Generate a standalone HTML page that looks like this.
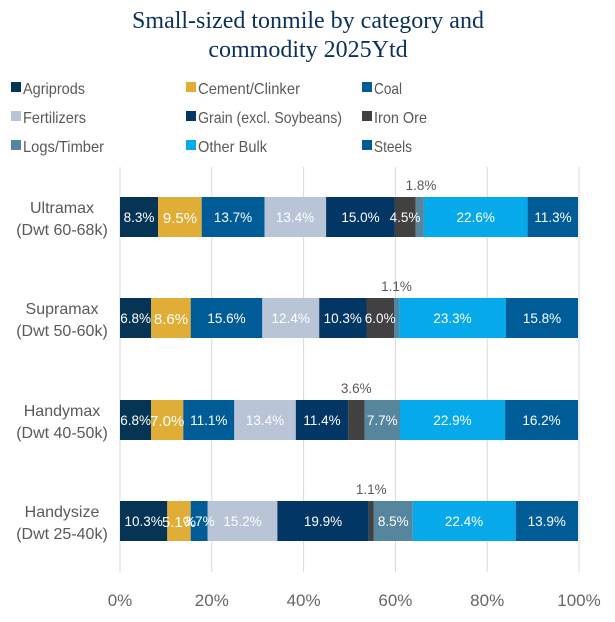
<!DOCTYPE html>
<html><head><meta charset="utf-8"><style>
body{margin:0;background:#fff}
svg text{font-family:"Liberation Sans",sans-serif}
</style></head><body>
<svg width="615" height="617" xmlns="http://www.w3.org/2000/svg">
<g font-size="24" fill="#0b3157" text-anchor="middle">
<text x="308" y="28" style="font-family:'Liberation Serif',serif">Small-sized tonmile by category and</text>
<text x="308" y="57" style="font-family:'Liberation Serif',serif">commodity 2025Ytd</text>
</g>
<g font-size="16" fill="#595959">
<rect x="11" y="82" width="10" height="10" fill="#063455"/><text x="23" y="94" textLength="62" lengthAdjust="spacingAndGlyphs">Agriprods</text>
<rect x="186" y="82" width="10" height="10" fill="#e0ae36"/><text x="198" y="94" textLength="102" lengthAdjust="spacingAndGlyphs">Cement/Clinker</text>
<rect x="362" y="82" width="10" height="10" fill="#005c96"/><text x="374" y="94" textLength="28" lengthAdjust="spacingAndGlyphs">Coal</text>
<rect x="11" y="111" width="10" height="10" fill="#b9c5d6"/><text x="23" y="123" textLength="63" lengthAdjust="spacingAndGlyphs">Fertilizers</text>
<rect x="186" y="111" width="10" height="10" fill="#013665"/><text x="198" y="123" textLength="144" lengthAdjust="spacingAndGlyphs">Grain (excl. Soybeans)</text>
<rect x="362" y="111" width="10" height="10" fill="#414141"/><text x="374" y="123" textLength="53" lengthAdjust="spacingAndGlyphs">Iron Ore</text>
<rect x="11" y="140" width="10" height="10" fill="#55869d"/><text x="23" y="152" textLength="81" lengthAdjust="spacingAndGlyphs">Logs/Timber</text>
<rect x="186" y="140" width="10" height="10" fill="#06a9ea"/><text x="198" y="152" textLength="69" lengthAdjust="spacingAndGlyphs">Other Bulk</text>
<rect x="362" y="140" width="10" height="10" fill="#005c96"/><text x="374" y="152" textLength="38" lengthAdjust="spacingAndGlyphs">Steels</text>
</g>
<g stroke="#d9d9d9" stroke-width="1">
<line x1="120" y1="167" x2="120" y2="572"/><line x1="211.8" y1="167" x2="211.8" y2="572"/>
<line x1="303.6" y1="167" x2="303.6" y2="572"/><line x1="395.4" y1="167" x2="395.4" y2="572"/>
<line x1="487.2" y1="167" x2="487.2" y2="572"/><line x1="579" y1="167" x2="579" y2="572"/>
</g>
<g font-size="17" fill="#666" text-anchor="middle">
<text x="120" y="606">0%</text><text x="211.8" y="606">20%</text><text x="303.6" y="606">40%</text>
<text x="395.4" y="606">60%</text><text x="487.2" y="606">80%</text><text x="579" y="606">100%</text>
</g>
<g font-size="16" fill="#595959" text-anchor="middle">
<text x="62" y="213">Ultramax</text><text x="62" y="235">(Dwt 60-68k)</text>
<text x="62" y="314">Supramax</text><text x="62" y="336">(Dwt 50-60k)</text>
<text x="62" y="416">Handymax</text><text x="62" y="438">(Dwt 40-50k)</text>
<text x="62" y="517">Handysize</text><text x="62" y="539">(Dwt 25-40k)</text>
</g>
<g>
<rect x="120" y="197" width="38.1" height="40" fill="#063455"/>
<rect x="158.1" y="197" width="43.6" height="40" fill="#e0ae36"/>
<rect x="201.7" y="197" width="62.9" height="40" fill="#005c96"/>
<rect x="264.6" y="197" width="61.5" height="40" fill="#b9c5d6"/>
<rect x="326.1" y="197" width="68.8" height="40" fill="#013665"/>
<rect x="394.9" y="197" width="20.7" height="40" fill="#414141"/>
<rect x="415.6" y="197" width="8.3" height="40" fill="#55869d"/>
<rect x="423.9" y="197" width="103.7" height="40" fill="#06a9ea"/>
<rect x="527.6" y="197" width="50.4" height="40" fill="#005c96"/>
</g>
<g>
<rect x="120" y="298" width="31.2" height="40" fill="#063455"/>
<rect x="151.2" y="298" width="39.5" height="40" fill="#e0ae36"/>
<rect x="190.7" y="298" width="71.6" height="40" fill="#005c96"/>
<rect x="262.3" y="298" width="56.9" height="40" fill="#b9c5d6"/>
<rect x="319.2" y="298" width="47.3" height="40" fill="#013665"/>
<rect x="366.5" y="298" width="27.5" height="40" fill="#414141"/>
<rect x="394" y="298" width="5.1" height="40" fill="#55869d"/>
<rect x="399.1" y="298" width="106.9" height="40" fill="#06a9ea"/>
<rect x="506" y="298" width="72" height="40" fill="#005c96"/>
</g>
<g>
<rect x="120" y="400" width="31.2" height="40" fill="#063455"/>
<rect x="151.2" y="400" width="32.1" height="40" fill="#e0ae36"/>
<rect x="183.3" y="400" width="51" height="40" fill="#005c96"/>
<rect x="234.3" y="400" width="61.5" height="40" fill="#b9c5d6"/>
<rect x="295.8" y="400" width="52.3" height="40" fill="#013665"/>
<rect x="348.1" y="400" width="16.5" height="40" fill="#414141"/>
<rect x="364.6" y="400" width="35.4" height="40" fill="#55869d"/>
<rect x="400" y="400" width="105.1" height="40" fill="#06a9ea"/>
<rect x="505.1" y="400" width="72.9" height="40" fill="#005c96"/>
</g>
<g>
<rect x="120" y="501" width="47.3" height="40" fill="#063455"/>
<rect x="167.3" y="501" width="23.4" height="40" fill="#e0ae36"/>
<rect x="190.7" y="501" width="17" height="40" fill="#005c96"/>
<rect x="207.7" y="501" width="69.7" height="40" fill="#b9c5d6"/>
<rect x="277.4" y="501" width="91.4" height="40" fill="#013665"/>
<rect x="368.8" y="501" width="5" height="40" fill="#414141"/>
<rect x="373.8" y="501" width="39" height="40" fill="#55869d"/>
<rect x="412.8" y="501" width="102.9" height="40" fill="#06a9ea"/>
<rect x="515.7" y="501" width="62.3" height="40" fill="#005c96"/>
</g>
<g font-size="13.5" fill="#fff" text-anchor="middle">
<text x="139" y="222">8.3%</text><text x="180" y="223" font-size="15">9.5%</text><text x="233" y="222">13.7%</text>
<text x="295" y="222">13.4%</text><text x="360.5" y="222">15.0%</text><text x="405" y="222">4.5%</text>
<text x="475.7" y="222">22.6%</text><text x="553" y="222">11.3%</text>
<text x="135.6" y="323">6.8%</text><text x="171" y="324" font-size="15">8.6%</text><text x="226.5" y="323">15.6%</text>
<text x="290.7" y="323">12.4%</text><text x="342.8" y="323">10.3%</text><text x="380.2" y="323">6.0%</text>
<text x="452.5" y="323">23.3%</text><text x="542" y="323">15.8%</text>
<text x="135.6" y="425">6.8%</text><text x="167.2" y="426" font-size="15">7.0%</text><text x="208.8" y="425">11.1%</text>
<text x="265" y="425">13.4%</text><text x="322" y="425">11.4%</text><text x="382.3" y="425">7.7%</text>
<text x="452.5" y="425">22.9%</text><text x="541.5" y="425">16.2%</text>
<text x="143.6" y="526">10.3%</text><text x="179" y="527" font-size="15">5.1%</text><text x="199.2" y="526">3.7%</text>
<text x="242.5" y="526">15.2%</text><text x="323" y="526">19.9%</text><text x="393.3" y="526">8.5%</text>
<text x="464" y="526">22.4%</text><text x="546.8" y="526">13.9%</text>
</g>
<g font-size="13.5" fill="#595959" text-anchor="middle">
<text x="421" y="190">1.8%</text>
<text x="396.5" y="291">1.1%</text>
<text x="356.3" y="393">3.6%</text>
<text x="371.3" y="494">1.1%</text>
</g>
</svg>
</body></html>
